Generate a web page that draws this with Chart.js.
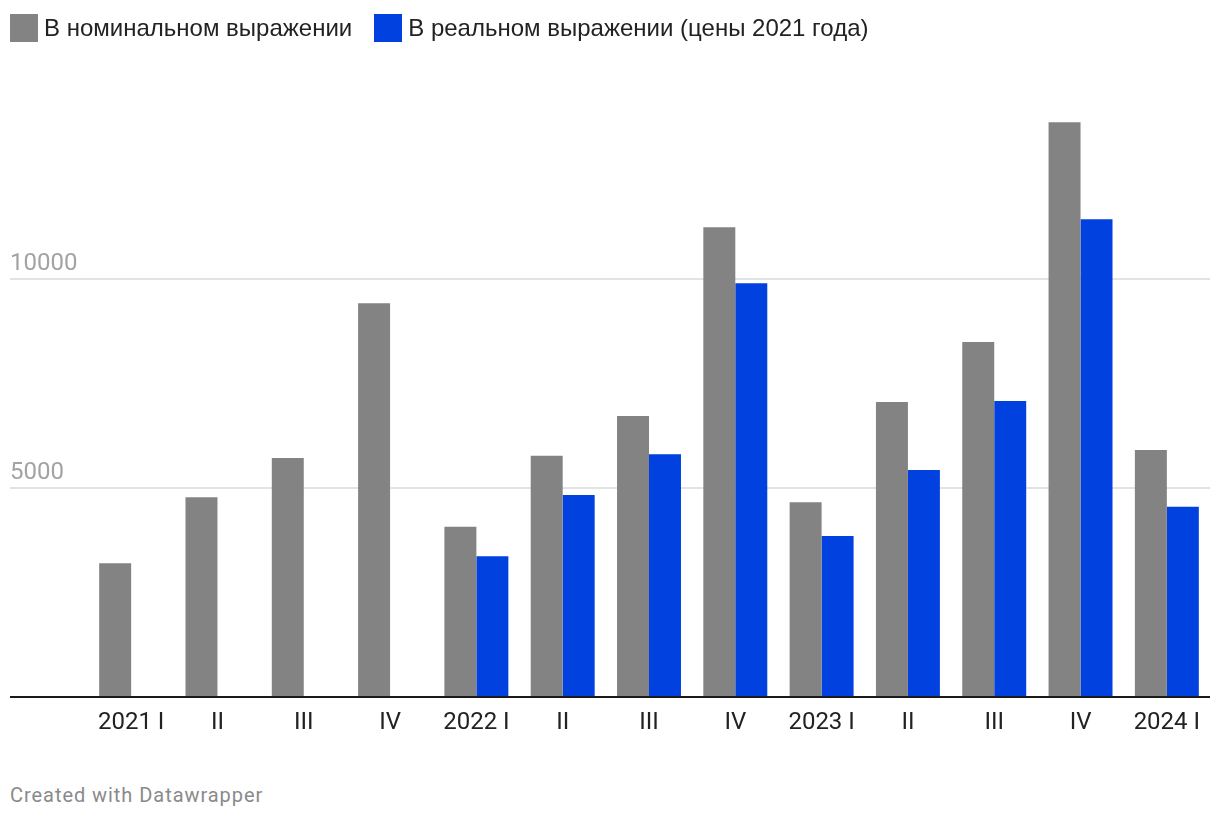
<!DOCTYPE html>
<html>
<head>
<meta charset="utf-8">
<script src="https://cdn.jsdelivr.net/npm/chart.js@4"></script>
<style>
  body { margin: 0; background: #fff; }
  .wrap { position: relative; width: 1220px; height: 820px; }
  .legend { position: absolute; left: 10px; top: 14px; display: flex; align-items: center; font-family: 'Liberation Sans', Arial, sans-serif; font-size: 24px; color: #222; }
  .legend .item { display: flex; align-items: center; margin-right: 22px; }
  .legend .swatch { width: 28px; height: 28px; margin-right: 6px; }
  .plot { position: absolute; left: 0; top: 0; width: 1220px; height: 760px; }
  .footer { position: absolute; left: 10px; top: 783px; font-family: Roboto, sans-serif; font-size: 20px; letter-spacing: 0.95px; color: #8a8a8a; }
</style>
</head>
<body>
<div class="wrap">
  <div class="plot"><canvas id="chart"></canvas></div>
  <div class="legend" id="legend"></div>
  <div class="footer">Created with Datawrapper</div>
</div>
<script>
const categories = ['2021 I', 'II', 'III', 'IV', '2022 I', 'II', 'III', 'IV', '2023 I', 'II', 'III', 'IV', '2024 I'];
const nominal = [3200, 4780, 5720, 9420, 4070, 5770, 6720, 11240, 4660, 7060, 8490, 13750, 5910];
const real = [null, null, null, null, 3370, 4830, 5810, 9900, 3850, 5430, 7080, 11430, 4550];
const seriesNames = ['В номинальном выражении', 'В реальном выражении (цены 2021 года)'];
const seriesColors = ['#838383', '#0041e0'];
const yTicks = [5000, 10000];

// legend in html so the swatch spacing matches
const legend = document.getElementById('legend');
seriesNames.forEach((name, i) => {
  const item = document.createElement('div');
  item.className = 'item';
  const sw = document.createElement('span');
  sw.className = 'swatch';
  sw.style.background = seriesColors[i];
  const txt = document.createElement('span');
  txt.textContent = name;
  item.appendChild(sw);
  item.appendChild(txt);
  legend.appendChild(item);
});

const gridPlugin = {
  id: 'dwGrid',
  beforeDatasetsDraw(chart) {
    const { ctx } = chart;
    const y = chart.scales.y;
    ctx.save();
    yTicks.forEach((v) => {
      const py = Math.round(y.getPixelForValue(v));
      ctx.strokeStyle = '#e3e3e3';
      ctx.lineWidth = 2;
      ctx.beginPath();
      ctx.moveTo(10, py);
      ctx.lineTo(chart.chartArea.right, py);
      ctx.stroke();
      ctx.fillStyle = '#a3a3a3';
      ctx.font = '24px Roboto';
      ctx.textBaseline = 'alphabetic';
      ctx.textAlign = 'left';
      ctx.fillText(String(v), 10, py - 9);
    });
    ctx.restore();
  },
  afterDatasetsDraw(chart) {
    const { ctx } = chart;
    const py = chart.scales.y.getPixelForValue(0);
    ctx.save();
    ctx.strokeStyle = '#1a1a1a';
    ctx.lineWidth = 2;
    ctx.beginPath();
    ctx.moveTo(10, py);
    ctx.lineTo(chart.chartArea.right, py);
    ctx.stroke();
    ctx.restore();
  }
};

new Chart(document.getElementById('chart'), {
  type: 'bar',
  data: {
    labels: categories,
    datasets: [
      { label: seriesNames[0], data: nominal, backgroundColor: seriesColors[0] },
      { label: seriesNames[1], data: real, backgroundColor: seriesColors[1] }
    ]
  },
  options: {
    responsive: true,
    maintainAspectRatio: false,
    animation: false,
    datasets: { bar: { categoryPercentage: 0.741, barPercentage: 1 } },
    layout: { padding: { left: 88, right: 10, top: 70, bottom: 0 } },
    plugins: { legend: { display: false }, tooltip: { enabled: false } },
    scales: {
      y: { display: false, min: 0, max: 15000 },
      x: {
        grid: { display: false, drawTicks: false },
        border: { display: false },
        ticks: { color: '#222', font: { family: 'Roboto', size: 24 }, padding: 12, maxRotation: 0, autoSkip: false },
        afterFit: (scale) => { scale.height = 63; }
      }
    }
  },
  plugins: [gridPlugin]
});
</script>
</body>
</html>
